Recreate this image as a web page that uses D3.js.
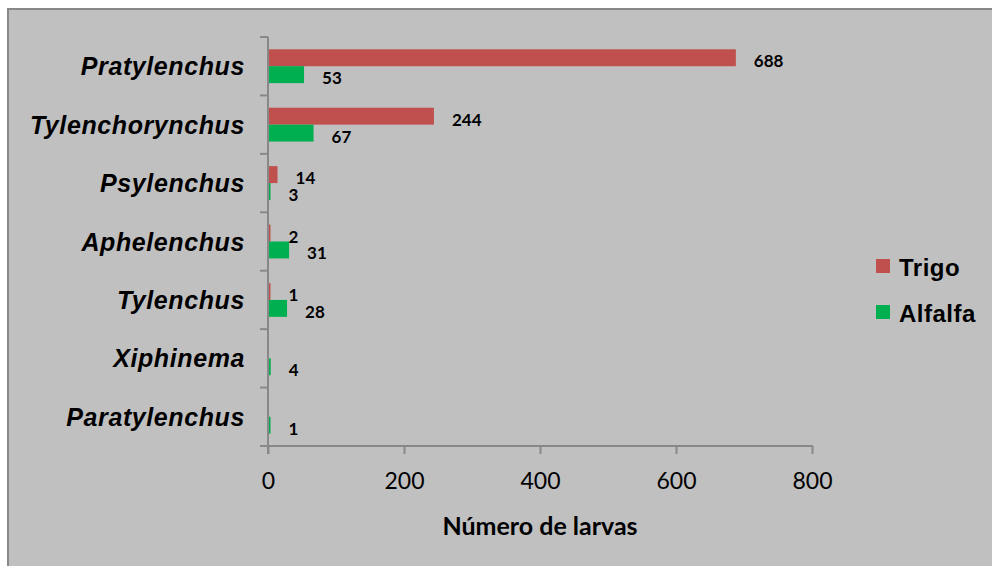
<!DOCTYPE html>
<html><head><meta charset="utf-8">
<script src="https://cdn.jsdelivr.net/npm/d3@7/dist/d3.min.js"></script>
<style>body{margin:0;background:#fff;}svg{display:block;}</style>
</head><body><svg id="c" width="992" height="566"></svg>
<script>
const categories = ["Pratylenchus","Tylenchorynchus","Psylenchus","Aphelenchus","Tylenchus","Xiphinema","Paratylenchus"];
const seriesNames = ["Trigo","Alfalfa"];
const trigo = [688,244,14,2,1,0,0];
const alfalfa = [53,67,3,31,28,4,1];
const xTicks = [0,200,400,600,800];
const colors = {"Trigo":"#c0504d","Alfalfa":"#00b050"};
const axisTitle = "Número de larvas";

const svg = d3.select("#c");
svg.append("rect").attr("x",8).attr("y",9).attr("width",1000).attr("height",600)
  .attr("fill","#c0c0c0").attr("stroke","#888").attr("stroke-width",2);

const x = d3.scaleLinear().domain([0,800]).range([268,812]);
const y = d3.scaleBand().domain(categories).range([37,446]);
const inner = d3.scaleBand().domain(seriesNames).range([12.3, y.bandwidth()-12.3]);

const data = categories.map((c,i)=>({cat:c, vals:[{s:"Trigo",v:trigo[i],show:trigo[i]>0},{s:"Alfalfa",v:alfalfa[i],show:true}]}));

const g = svg.append("g");
const grp = g.selectAll("g.cat").data(data).join("g").attr("transform",d=>`translate(0,${y(d.cat)})`);
grp.selectAll("rect").data(d=>d.vals.filter(v=>v.show)).join("rect")
  .attr("x",x(0)).attr("y",d=>inner(d.s)).attr("width",d=>Math.max(x(d.v)-x(0),2.5))
  .attr("height",inner.bandwidth()).attr("fill",d=>colors[d.s]);
grp.selectAll("text").data(d=>d.vals.filter(v=>v.show)).join("text")
  .attr("x",d=>Math.max(x(d.v),x(0)+2.5)+18).attr("y",d=>inner(d.s)+inner.bandwidth()/2+9.5)
  .attr("font-family","Lato, 'Open Sans', sans-serif").attr("font-weight","bold").attr("font-size",17)
  .attr("fill","#000").text(d=>d.v);

// y axis
svg.append("line").attr("x1",x(0)).attr("x2",x(0)).attr("y1",37).attr("y2",454).attr("stroke","#888").attr("stroke-width",2);
const bounds = categories.map(c=>y(c)).concat([y.range()[1]]);
svg.selectAll("line.yt").data(bounds).join("line").attr("class","yt")
  .attr("x1",x(0)-8).attr("x2",x(0)).attr("y1",d=>d).attr("y2",d=>d).attr("stroke","#888").attr("stroke-width",2);
svg.selectAll("text.cat").data(categories).join("text").attr("class","cat")
  .attr("x",245).attr("y",d=>y(d)+y.bandwidth()/2+9).attr("text-anchor","end")
  .attr("font-family","'Liberation Sans', Arial, sans-serif").attr("font-weight","bold").attr("font-style","italic")
  .attr("font-size",25).attr("letter-spacing",0.6).attr("fill","#000").text(d=>d);

// x axis
const xAxis = d3.axisBottom(x).tickValues(xTicks).tickSize(8).tickPadding(14);
const xa = svg.append("g").attr("transform","translate(0,446)").call(xAxis);
xa.select(".domain").attr("stroke","#888").attr("stroke-width",2).attr("d",`M${x(0)-8},0H${x(800)+1}`);
xa.selectAll(".tick line").attr("stroke","#888").attr("stroke-width",2);
xa.selectAll(".tick text").attr("font-family","Lato, 'Open Sans', sans-serif").attr("font-size",23).attr("fill","#000").attr("dy","0.9em");
svg.append("text").attr("x",(x(0)+x(800))/2).attr("y",535).attr("text-anchor","middle")
  .attr("font-family","Lato, 'Open Sans', sans-serif").attr("font-weight","bold").attr("font-size",25).attr("fill","#000").text(axisTitle);

// legend
const leg = svg.selectAll("g.leg").data(seriesNames).join("g").attr("class","leg")
  .attr("transform",(d,i)=>`translate(876,${259+i*46})`);
leg.append("rect").attr("width",14).attr("height",14).attr("fill",d=>colors[d]);
leg.append("text").attr("x",23).attr("y",17).attr("font-family","'Liberation Sans', Arial, sans-serif")
  .attr("font-weight","bold").attr("font-size",24).attr("letter-spacing",0.5).attr("fill","#000").text(d=>d);
</script></body></html>
